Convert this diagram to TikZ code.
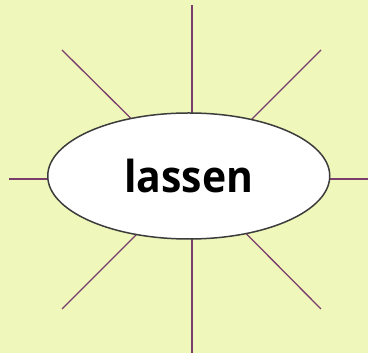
\documentclass[tikz,border=0pt]{standalone}
\usepackage{fontspec}
\setmainfont{Open Sans}
\usetikzlibrary{shapes.geometric}
\definecolor{paper}{RGB}{240,247,186}
\definecolor{raycol}{RGB}{122,62,108}
\definecolor{rimcol}{RGB}{60,60,60}
\tikzset{
  ray/.style={draw=raycol, line width=1.3pt},
  wordbox/.style={ellipse, draw=rimcol, fill=white, line width=1.5pt, minimum width=282pt, minimum height=126pt, inner sep=0pt}
}
\begin{document}
\begin{tikzpicture}[x=1pt,y=1pt]
\fill[paper] (0,0) rectangle (368,353);
\useasboundingbox (0,0) rectangle (368,353);
\coordinate (hub) at (192,174);
\coordinate (top) at (192,348);
\coordinate (bottom) at (192,0);
\coordinate (left) at (9,174);
\coordinate (right) at (368,174);
\coordinate (topleft) at (62,303);
\coordinate (topright) at (321,303);
\coordinate (bottomleft) at (62,44);
\coordinate (bottomright) at (321,44);
\foreach \e in {top,bottom,left,right,topleft,topright,bottomleft,bottomright}
  \draw[ray] (hub) -- (\e);
\node[wordbox] (word) at (188.75,177) {\scalebox{0.93}[1]{\fontsize{44}{44}\selectfont\bfseries lassen}};
\end{tikzpicture}
\end{document}
